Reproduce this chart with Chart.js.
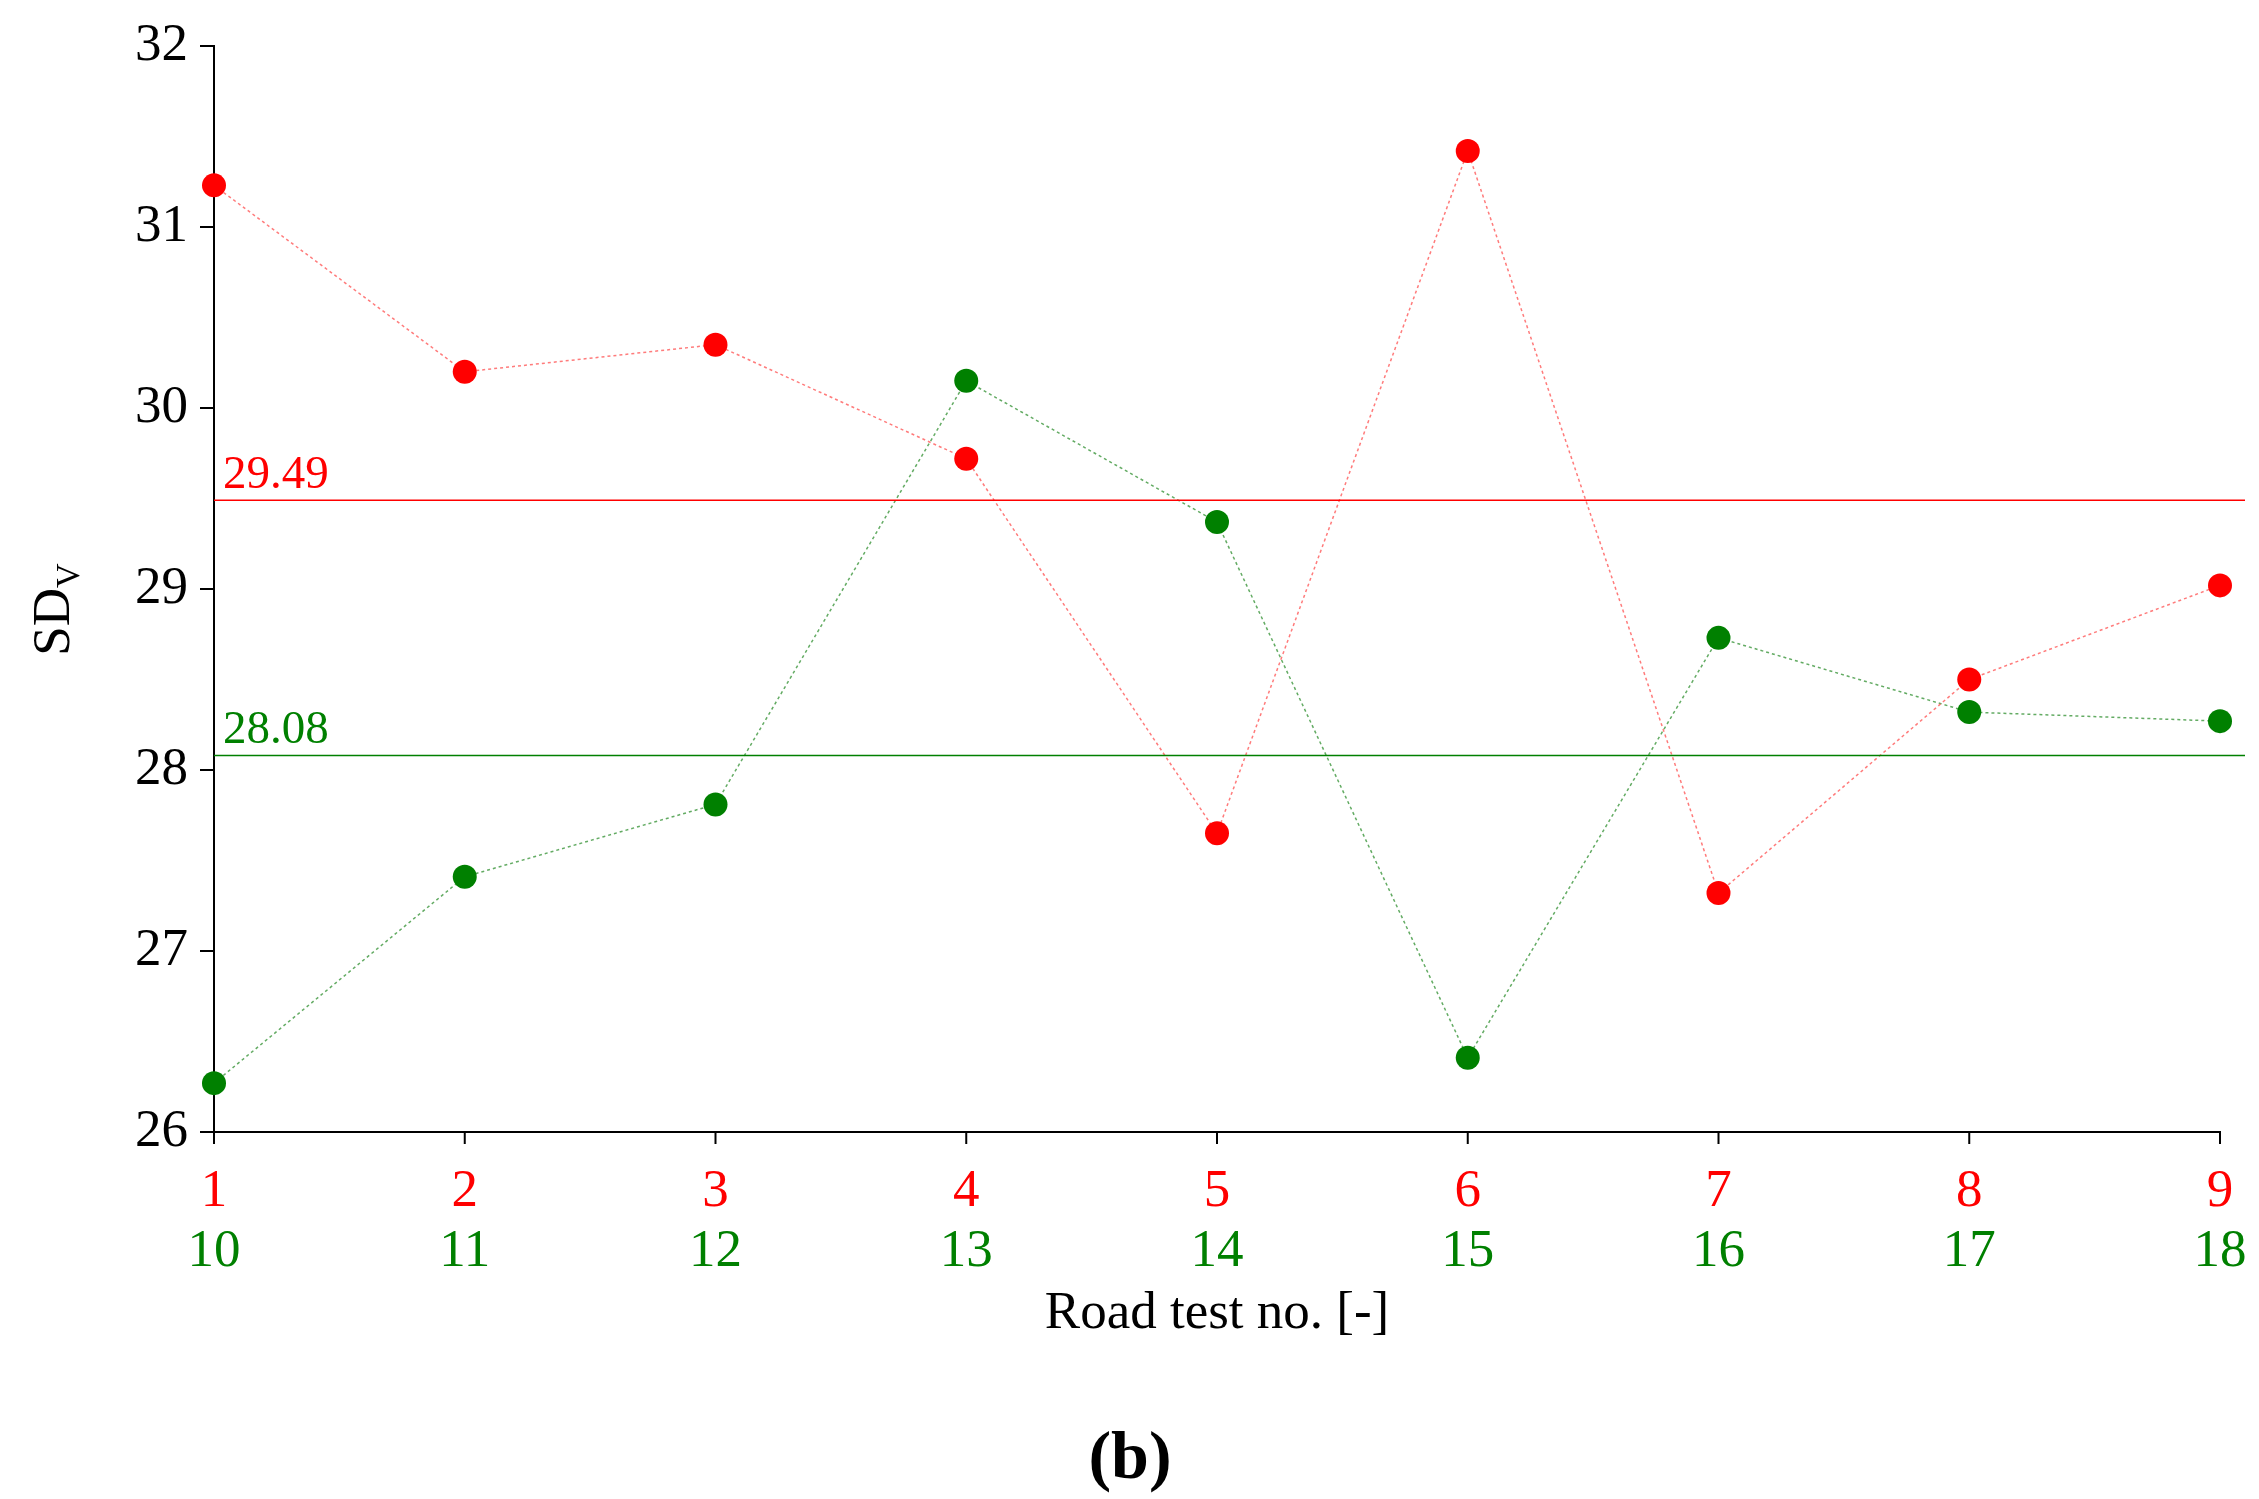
<!DOCTYPE html>
<html><head><meta charset="utf-8">
<script src="https://cdn.jsdelivr.net/npm/chart.js@4/dist/chart.umd.min.js"></script>
<style>html,body{margin:0;background:#fff}#c{display:block}</style>
</head><body>
<canvas id="c" width="2259" height="1499"></canvas>
<script>
const tests = [1, 2, 3, 4, 5, 6, 7, 8, 9];
const redLabels = ['1', '2', '3', '4', '5', '6', '7', '8', '9'];
const greenLabels = ['10', '11', '12', '13', '14', '15', '16', '17', '18'];
const redValues = [31.23, 30.20, 30.35, 29.72, 27.65, 31.42, 27.32, 28.50, 29.02];
const greenValues = [26.27, 27.41, 27.81, 30.15, 29.37, 26.41, 28.73, 28.32, 28.27];
const redMean = 29.49;
const greenMean = 28.08;
const yTicks = [26, 27, 28, 29, 30, 31, 32];

const RED = '#ff0000', GREEN = '#008000';
const serif = '"Liberation Serif", "DejaVu Serif", serif';

const extras = {
  id: 'extras',
  afterDraw(chart) {
    const { ctx, chartArea: a, scales: { x, y } } = chart;
    ctx.save();
    // mean lines
    [[redMean, RED], [greenMean, GREEN]].forEach(([v, col]) => {
      const py = y.getPixelForValue(v);
      ctx.strokeStyle = col; ctx.lineWidth = 1.5;
      ctx.beginPath(); ctx.moveTo(a.left, py); ctx.lineTo(2245, py); ctx.stroke();
      ctx.fillStyle = col; ctx.font = '47px ' + serif;
      ctx.textAlign = 'left'; ctx.textBaseline = 'bottom';
      ctx.fillText(v.toFixed(2), a.left + 9, py - 1);
    });
    // y ticks
    ctx.strokeStyle = '#000'; ctx.lineWidth = 2;
    ctx.fillStyle = '#000'; ctx.font = '53px ' + serif;
    ctx.textAlign = 'right'; ctx.textBaseline = 'middle';
    yTicks.forEach(t => {
      const py = y.getPixelForValue(t);
      ctx.beginPath(); ctx.moveTo(a.left - 14, py); ctx.lineTo(a.left, py); ctx.stroke();
      ctx.fillText(String(t), a.left - 26, py);
    });
    // x ticks
    ctx.textAlign = 'center'; ctx.textBaseline = 'middle'; ctx.font = '53px ' + serif;
    tests.forEach((t, i) => {
      const px = x.getPixelForValue(t);
      ctx.beginPath(); ctx.moveTo(px, a.bottom); ctx.lineTo(px, a.bottom + 12); ctx.stroke();
      ctx.fillStyle = RED; ctx.fillText(redLabels[i], px, a.bottom + 60);
      ctx.fillStyle = GREEN; ctx.fillText(greenLabels[i], px, a.bottom + 120);
    });
    // axis titles
    ctx.fillStyle = '#000'; ctx.font = '53px ' + serif;
    ctx.fillText('Road test no. [-]', 1217, a.bottom + 182);
    ctx.font = 'bold 68px ' + serif;
    ctx.fillText('(b)', 1130, 1460);
    ctx.translate(55, 594); ctx.rotate(-Math.PI / 2);
    ctx.font = '53px ' + serif; ctx.textAlign = 'right';
    ctx.fillText('SD', 6, 0);
    ctx.font = '34px ' + serif; ctx.textAlign = 'left';
    ctx.fillText('V', 6, 15);
    ctx.restore();
  }
};

const pts = vals => tests.map((t, i) => ({ x: t, y: vals[i] }));

new Chart(document.getElementById('c'), {
  type: 'line',
  data: {
    datasets: [
      { data: pts(redValues), borderColor: 'rgba(255,90,90,0.8)', borderWidth: 1.5, borderDash: [3, 3],
        pointRadius: 12, pointBackgroundColor: RED, pointBorderWidth: 0, clip: false },
      { data: pts(greenValues), borderColor: 'rgba(60,150,60,0.8)', borderWidth: 1.5, borderDash: [3, 3],
        pointRadius: 12, pointBackgroundColor: GREEN, pointBorderWidth: 0, clip: false }
    ]
  },
  options: {
    responsive: false, animation: false,
    layout: { padding: { left: 214, top: 46, right: 39, bottom: 367 } },
    plugins: { legend: { display: false }, tooltip: { enabled: false } },
    scales: {
      x: { type: 'linear', min: 1, max: 9, grid: { display: false },
        border: { color: '#000', width: 2 }, ticks: { display: false },
        afterFit(s) { s.height = 0; } },
      y: { min: 26, max: 32, grid: { display: false },
        border: { color: '#000', width: 2 }, ticks: { display: false },
        afterFit(s) { s.width = 0; } }
    }
  },
  plugins: [extras]
});
</script>
</body></html>
